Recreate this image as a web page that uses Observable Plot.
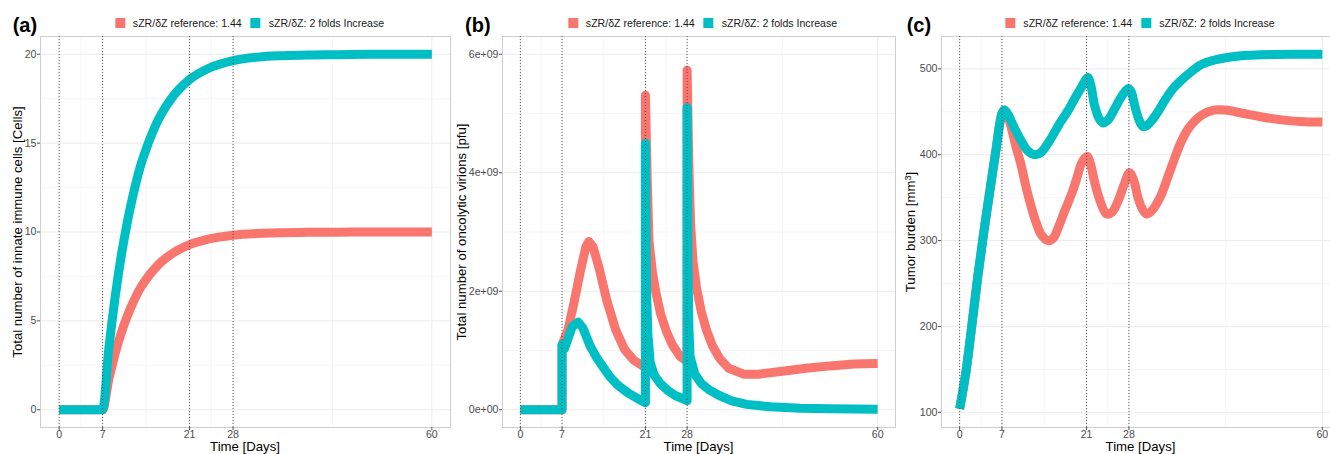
<!DOCTYPE html>
<html><head><meta charset="utf-8">
<script src="https://cdn.jsdelivr.net/npm/d3@7"></script>
<script src="https://cdn.jsdelivr.net/npm/@observablehq/plot@0.6"></script>
<style>
html,body{margin:0;padding:0;background:#fff;overflow:hidden;}
#wrap{position:relative;width:1330px;height:454px;overflow:hidden;font-family:'Liberation Sans',Arial,Helvetica,sans-serif;}
.panel{position:absolute;top:0;}
.tag{position:absolute;top:14.6px;font-weight:bold;font-size:20px;line-height:20px;color:#000;}
.legend{position:absolute;top:16px;height:13px;display:flex;align-items:center;transform:translateX(-50%);white-space:nowrap;font-size:10.6px;color:#1a1a1a;}
.key{width:10px;height:10px;margin-right:8px;}
.item{display:flex;align-items:center;}
.item + .item{margin-left:9px;}
.xtitle{position:absolute;top:439.6px;transform:translateX(-50%);font-size:13.2px;line-height:13.2px;white-space:nowrap;color:#000;}
.ytitle{position:absolute;transform:translate(-50%,-50%) rotate(-90deg);font-size:13.2px;line-height:13.2px;white-space:nowrap;color:#000;}
.ytitle sup{font-size:70%;line-height:0;vertical-align:0.5em;}
</style></head>
<body><div id="wrap"></div>
<script>
// ---- shared ----
const seriesNames = ["sZR/δZ reference: 1.44", "sZR/δZ: 2 folds Increase"];
const seriesColors = ["#F8766D", "#00BFC4"];
const dayTicks = [0, 7, 21, 28, 60];
const dayMinor = [3.5, 14, 24.5, 44];
const doseDays = [0, 7, 21, 28];
const xTitle = "Time [Days]";

// ---- panel (a): innate immune cells ----
const immuneDays     = [0, 7, 8, 9, 10, 11, 12, 13, 14, 16, 18, 21, 24, 28, 32, 36, 40, 45, 50, 60];
const immuneRef      = [0, 0, 1.72, 3.15, 4.33, 5.3, 6.11, 6.8, 7.33, 8.17, 8.74, 9.29, 9.6, 9.82, 9.92, 9.96, 9.98, 9.99, 10, 10];
const immuneTwoFold  = [0, 0, 3.44, 6.3, 8.66, 10.6, 12.22, 13.6, 14.66, 16.34, 17.48, 18.58, 19.2, 19.64, 19.84, 19.92, 19.96, 19.98, 20, 20];
const immuneTicks    = [0, 5, 10, 15, 20];
const immuneTickLabels = ["0", "5", "10", "15", "20"];
const immuneMinor    = [2.5, 7.5, 12.5, 17.5];

// ---- panel (b): oncolytic virions ----
const virionRefDays = [0, 7, 7, 8, 9, 10, 11, 11.5, 12.2, 13.2, 14.5, 16, 17.5, 19, 21, 21, 21.3, 21.6, 22.2, 22.8, 23.6, 24.5, 25.5, 26.8, 28, 28, 28.3, 28.6, 29, 29.6, 30.4, 31.3, 32.3, 33.5, 35, 37.5, 40, 44, 48, 52, 56, 60];
const virionRef     = [0, 0, 1.1e9, 1.35e9, 1.8e9, 2.3e9, 2.75e9, 2.84e9, 2.75e9, 2.4e9, 1.85e9, 1.35e9, 1.02e9, 0.84e9, 0.71e9, 5.31e9, 3.9e9, 2.85e9, 2.3e9, 1.96e9, 1.6e9, 1.33e9, 1.1e9, 0.9e9, 0.82e9, 5.73e9, 4.1e9, 3.1e9, 2.5e9, 2.05e9, 1.65e9, 1.33e9, 1.07e9, 0.86e9, 0.7e9, 0.6e9, 0.6e9, 0.65e9, 0.7e9, 0.74e9, 0.77e9, 0.78e9];
const virionTwoDays = [0, 7, 7, 7.4, 8, 8.7, 9.7, 10.5, 11.7, 12.8, 13.9, 15, 16.3, 18, 20, 21, 21, 21.2, 21.4, 21.8, 22.5, 23.5, 24.7, 26, 27.2, 28, 28, 28.15, 28.3, 28.5, 29.3, 30.4, 31.8, 33.4, 35.5, 38, 42, 47, 52, 60];
const virionTwo     = [0, 0, 1.1e9, 1.03e9, 1.2e9, 1.4e9, 1.48e9, 1.38e9, 1.08e9, 0.88e9, 0.72e9, 0.56e9, 0.42e9, 0.29e9, 0.17e9, 0.12e9, 4.5e9, 2.0e9, 1.3e9, 0.8e9, 0.58e9, 0.44e9, 0.33e9, 0.24e9, 0.19e9, 0.15e9, 5.1e9, 2.4e9, 1.4e9, 0.9e9, 0.6e9, 0.44e9, 0.33e9, 0.24e9, 0.15e9, 0.09e9, 0.05e9, 0.025e9, 0.015e9, 0.01e9];
const virionTicks   = [0, 2e9, 4e9, 6e9];
const virionTickLabels = ["0e+00", "2e+09", "4e+09", "6e+09"];
const virionMinor   = [1e9, 3e9, 5e9];

// ---- panel (c): tumor burden ----
const tumorRefDays = [0, 1, 2, 3, 4, 5, 6, 7, 7.4, 8, 8.6, 9.3, 10.2, 11, 11.9, 12.7, 13.5, 14.6, 15.5, 16.3, 17.4, 18.5, 19.4, 20.1, 20.7, 21.1, 21.7, 22.3, 23.2, 24.3, 25.2, 26.2, 27.2, 28.1, 28.8, 29.5, 30.2, 30.9, 31.8, 32.6, 33.4, 35, 36.7, 38, 40, 42, 44, 47, 50, 54, 57, 60];
const tumorRef     = [104, 145, 200, 258, 310, 358, 405, 448, 452, 444, 430, 410, 387, 362, 338, 320, 307, 300, 303, 315, 335, 354, 373, 389, 396, 398, 388, 369, 347, 331, 333, 346, 365, 379, 370, 350, 337, 331, 335, 343, 354, 385, 416, 432, 446, 452, 452, 448, 444, 440, 438.5, 438];
const tumorTwoDays = [0, 1, 2, 3, 4, 5, 6, 7, 7.4, 8, 9, 10.2, 11.2, 12.5, 13.5, 15.2, 16.5, 17.9, 19, 20.1, 20.8, 21.2, 21.7, 22.3, 23, 23.7, 24.6, 25.6, 26.8, 27.9, 28.4, 29, 29.7, 30.3, 31, 31.8, 32.8, 34, 35.3, 36.7, 38, 40, 42, 44, 47, 50, 55, 60];
const tumorTwo     = [104, 145, 200, 258, 310, 358, 405, 448, 452, 447, 432, 416, 405, 400, 403, 420, 436, 451, 465, 478, 487, 490, 481, 458, 443, 437, 441, 453, 468, 477, 473, 456, 440, 433, 434, 440, 450, 464, 477, 487, 495, 505, 510, 513, 515.5, 516.5, 517, 517];
const tumorTicks   = [100, 200, 300, 400, 500];
const tumorTickLabels = ["100", "200", "300", "400", "500"];
const tumorMinor   = [150, 250, 350, 450];

const wrap = document.getElementById("wrap");

function makePanel(cfg) {
  const datasets = cfg.seriesX.map((xs, k) => xs.map((t, i) => ({t, v: cfg.seriesY[k][i]})));
  const marks = [
    Plot.ruleX(dayMinor, {stroke: "#f4f4f4", strokeWidth: 0.8}),
    Plot.ruleY(cfg.yMinor, {stroke: "#f4f4f4", strokeWidth: 0.8}),
    Plot.ruleX(dayTicks, {stroke: "#ebebeb", strokeWidth: 1}),
    Plot.ruleY(cfg.yTicks, {stroke: "#ebebeb", strokeWidth: 1}),
    Plot.frame({stroke: "#cfcfcf"}),
    ...datasets.map((d, k) => Plot.line(d, {x: "t", y: "v", stroke: seriesColors[k], strokeWidth: 9,
      curve: cfg.curve, strokeLinejoin: "round", strokeLinecap: "butt"})),
    Plot.ruleX(doseDays, {stroke: "#3a3a3a", strokeWidth: 0.8, strokeDasharray: "1,2"}),
    Plot.axisX({ticks: dayTicks, tickSize: 3, tickPadding: 0, fontSize: 10.6, color: "#4d4d4d", label: null, tickFormat: d => String(d)}),
    Plot.axisY({ticks: cfg.yTicks, tickSize: 3, tickPadding: 1, fontSize: 10.6, color: "#4d4d4d", label: null,
      tickFormat: d => cfg.yLabels[cfg.yTicks.indexOf(d)]})
  ];
  const svg = Plot.plot({
    width: cfg.width, height: 454,
    marginLeft: cfg.marginLeft, marginRight: 2, marginTop: 36, marginBottom: 27,
    x: {domain: [-3, 63]},
    y: {domain: cfg.yDomain},
    style: {fontFamily: "'Liberation Sans', Arial, Helvetica, sans-serif", background: "transparent", overflow: "visible"},
    marks
  });
  svg.classList.add("panel");
  svg.style.left = cfg.left + "px";
  svg.style.maxWidth = "none";
  wrap.appendChild(svg);

  const frameLeft = cfg.left + cfg.marginLeft;
  const frameRight = cfg.left + cfg.width - 2;

  const xt = document.createElement("div");
  xt.className = "xtitle";
  xt.style.left = ((frameLeft + frameRight) / 2) + "px";
  xt.textContent = xTitle;
  wrap.appendChild(xt);

  const yt = document.createElement("div");
  yt.className = "ytitle";
  yt.style.left = cfg.yTitleX + "px";
  yt.style.top = "231.5px";
  if (cfg.yTitleSup) {
    yt.appendChild(document.createTextNode(cfg.yTitle));
    const sup = document.createElement("sup");
    sup.textContent = cfg.yTitleSup;
    yt.appendChild(sup);
    yt.appendChild(document.createTextNode(cfg.yTitleEnd));
  } else {
    yt.textContent = cfg.yTitle;
  }
  wrap.appendChild(yt);

  const tag = document.createElement("div");
  tag.className = "tag";
  tag.style.left = cfg.tagLeft + "px";
  tag.textContent = cfg.tag;
  wrap.appendChild(tag);

  const leg = document.createElement("div");
  leg.className = "legend";
  leg.style.left = cfg.legendCenter + "px";
  seriesNames.forEach((name, k) => {
    const item = document.createElement("div");
    item.className = "item";
    const key = document.createElement("div");
    key.className = "key";
    key.style.background = seriesColors[k];
    const label = document.createElement("span");
    label.textContent = name;
    item.appendChild(key); item.appendChild(label);
    leg.appendChild(item);
  });
  wrap.appendChild(leg);
}

makePanel({
  left: 0, width: 452, marginLeft: 40,
  yDomain: [-1, 21], yTicks: immuneTicks, yLabels: immuneTickLabels, yMinor: immuneMinor,
  yTitle: "Total number of innate immune cells [Cells]", yTitleX: 17.6,
  curve: "monotone-x",
  seriesX: [immuneDays, immuneDays], seriesY: [immuneRef, immuneTwoFold],
  tag: "(a)", tagLeft: 12.7, legendCenter: 249.5
});
makePanel({
  left: 452, width: 445, marginLeft: 50,
  yDomain: [-0.3e9, 6.3e9], yTicks: virionTicks, yLabels: virionTickLabels, yMinor: virionMinor,
  yTitle: "Total number of oncolytic virions [pfu]", yTitleX: 461.6,
  curve: "linear",
  seriesX: [virionRefDays, virionTwoDays], seriesY: [virionRef, virionTwo],
  tag: "(b)", tagLeft: 465, legendCenter: 702.5
});
makePanel({
  left: 897, width: 445, marginLeft: 44,
  yDomain: [82.3, 537.7], yTicks: tumorTicks, yLabels: tumorTickLabels, yMinor: tumorMinor,
  yTitle: "Tumor burden [mm", yTitleSup: "3", yTitleEnd: "]", yTitleX: 910.9,
  curve: "catmull-rom",
  seriesX: [tumorRefDays, tumorTwoDays], seriesY: [tumorRef, tumorTwo],
  tag: "(c)", tagLeft: 906.7, legendCenter: 1140
});
</script>
</body></html>
